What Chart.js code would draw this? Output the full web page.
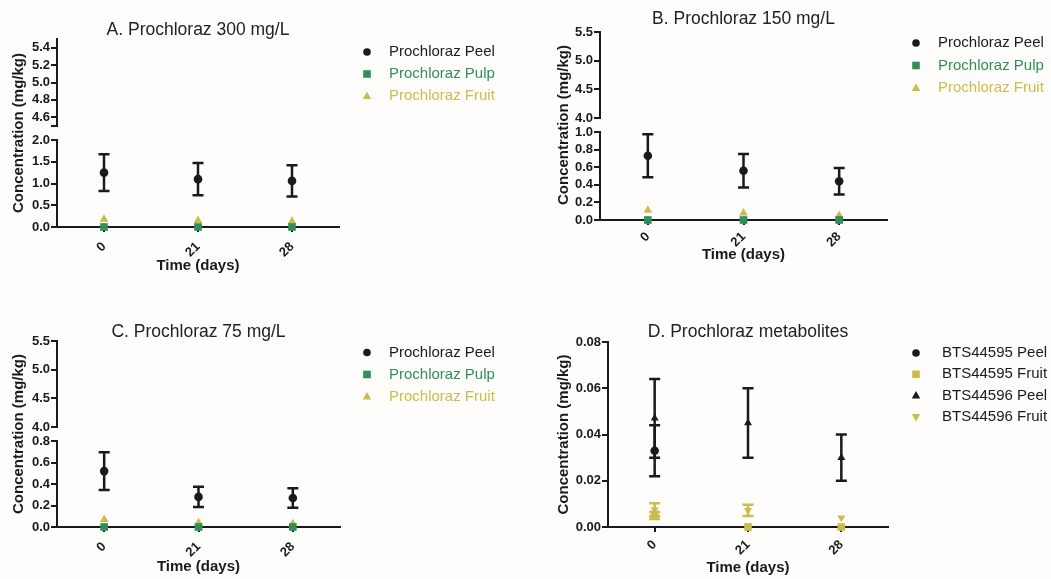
<!DOCTYPE html>
<html>
<head>
<meta charset="utf-8">
<title>Prochloraz residues</title>
<script src="https://cdn.jsdelivr.net/npm/chart.js@4.4.1/dist/chart.umd.min.js"></script>
<style>
  html, body { margin: 0; padding: 0; background: #fefdfb; }
  #page { position: relative; width: 1051px; height: 579px; overflow: hidden; }
  #page canvas { position: absolute; }
</style>
</head>
<body>
<div id="page">
  <canvas id="panel-a" width="520" height="290" style="left:0;top:0"></canvas>
  <canvas id="panel-b" width="531" height="290" style="left:520px;top:0"></canvas>
  <canvas id="panel-c" width="520" height="289" style="left:0;top:290px"></canvas>
  <canvas id="panel-d" width="531" height="289" style="left:520px;top:290px"></canvas>
</div>
<script>
// sampling days
const days = ["0", "21", "28"];

// A. 300 mg/L
const peel300 = [1.25, 1.1, 1.06];
const peel300Err = [0.42, 0.37, 0.36];
const pulp300 = [0, 0, 0];
const fruit300 = [0.18, 0.15, 0.13];

// B. 150 mg/L
const peel150 = [0.73, 0.56, 0.44];
const peel150Err = [0.245, 0.19, 0.15];
const pulp150 = [0, 0, 0];
const fruit150 = [0.11, 0.08, 0.05];

// C. 75 mg/L
const peel75 = [0.52, 0.28, 0.27];
const peel75Err = [0.175, 0.095, 0.09];
const pulp75 = [0, 0, 0];
const fruit75 = [0.07, 0.04, 0.03];

// D. metabolites
const bts95Peel = [0.033, null, null];
const bts95PeelErr = [0.011, null, null];
const bts95Fruit = [0.005, 0, 0];
const bts95FruitErr = [0.0015, 0, 0];
const bts96Peel = [0.047, 0.045, 0.03];
const bts96PeelErr = [0.017, 0.015, 0.01];
const bts96Fruit = [0.0075, 0.0072, 0.004];
const bts96FruitErr = [0.0028, 0.0024, 0];

// tick values / labels
const upper300Ticks = [4.5, 4.6, 4.8, 5.0, 5.2, 5.4];
const upper300Labels = ["", "4.6", "4.8", "5.0", "5.2", "5.4"];
const lower300Ticks = [0, 0.5, 1.0, 1.5, 2.0];
const lower300Labels = ["0.0", "0.5", "1.0", "1.5", "2.0"];
const upperTicks = [4.0, 4.5, 5.0, 5.5];
const upperLabels = ["4.0", "4.5", "5.0", "5.5"];
const lower150Ticks = [0, 0.2, 0.4, 0.6, 0.8, 1.0];
const lower150Labels = ["0.0", "0.2", "0.4", "0.6", "0.8", "1.0"];
const lower75Ticks = [0, 0.2, 0.4, 0.6, 0.8];
const lower75Labels = ["0.0", "0.2", "0.4", "0.6", "0.8"];
const metaTicks = [0, 0.02, 0.04, 0.06, 0.08];
const metaLabels = ["0.00", "0.02", "0.04", "0.06", "0.08"];

const INK = "#1a1a1a";
const GREEN = "#2f8f57";
const YELLOW = "#c9bd4c";
const FONT = "'Liberation Sans', Arial, Helvetica, sans-serif";

Chart.defaults.font.family = FONT;
Chart.defaults.color = INK;

function series(label, data, err, style, color, radius, rotation) {
  return {
    label: label,
    data: data,
    errorBars: err,
    pointStyle: style,
    pointRotation: rotation || 0,
    pointRadius: radius,
    pointHoverRadius: radius,
    pointBorderWidth: 0,
    backgroundColor: color,
    borderColor: color,
    showLine: false,
    clip: false,
    yAxisID: "y",
  };
}

// error bars drawn from the dataset's errorBars array
const errorBars = {
  id: "errorBars",
  beforeDatasetsDraw(chart) {
    const ctx = chart.ctx;
    chart.data.datasets.forEach((ds, i) => {
      if (!ds.errorBars) return;
      const meta = chart.getDatasetMeta(i);
      const yScale = chart.scales[meta.yAxisID];
      meta.data.forEach((pt, j) => {
        const v = ds.data[j];
        const e = ds.errorBars[j];
        if (v == null || !e) return;
        const top = yScale.getPixelForValue(v + e);
        const bot = yScale.getPixelForValue(v - e);
        ctx.save();
        ctx.strokeStyle = ds.borderColor;
        ctx.lineWidth = 2.5;
        ctx.beginPath();
        ctx.moveTo(pt.x, top);
        ctx.lineTo(pt.x, bot);
        ctx.moveTo(pt.x - 5.5, top);
        ctx.lineTo(pt.x + 5.5, top);
        ctx.moveTo(pt.x - 5.5, bot);
        ctx.lineTo(pt.x + 5.5, bot);
        ctx.stroke();
        ctx.restore();
      });
    });
  },
};

const panelTitle = {
  id: "panelTitle",
  afterDraw(chart, args, opts) {
    const { ctx, chartArea } = chart;
    ctx.save();
    ctx.font = "17.5px " + FONT;
    ctx.fillStyle = "#222";
    ctx.textAlign = "center";
    ctx.textBaseline = "middle";
    ctx.fillText(opts.text, (chartArea.left + chartArea.right) / 2, opts.y);
    ctx.restore();
  },
};

function drawMarker(ctx, style, rotation, x, y, color) {
  ctx.fillStyle = color;
  ctx.beginPath();
  if (style === "circle") {
    ctx.arc(x, y, 3.8, 0, Math.PI * 2);
  } else if (style === "rect") {
    ctx.rect(x - 3.8, y - 3.8, 7.6, 7.6);
  } else {
    const s = rotation ? -1 : 1;
    ctx.moveTo(x, y - s * 4.6);
    ctx.lineTo(x + 4.2, y + s * 3.0);
    ctx.lineTo(x - 4.2, y + s * 3.0);
    ctx.closePath();
  }
  ctx.fill();
}

const sideLegend = {
  id: "sideLegend",
  afterDraw(chart, args, opts) {
    const ctx = chart.ctx;
    ctx.save();
    ctx.font = "15px " + FONT;
    ctx.textBaseline = "middle";
    ctx.textAlign = "left";
    chart.data.datasets.forEach((ds, i) => {
      const y = opts.y + i * opts.gap;
      drawMarker(ctx, ds.pointStyle, ds.pointRotation, opts.x, y, ds.backgroundColor);
      ctx.fillStyle = opts.colors[i];
      ctx.fillText(ds.label, opts.textX, y);
    });
    ctx.restore();
  },
};

const tickFont = { size: 13, weight: "bold" };
const axisTitleFont = { size: 15, weight: "bold" };

function valueAxis(min, max, ticks, labels, width, extra) {
  return Object.assign({
    type: "linear",
    position: "left",
    min: min,
    max: max,
    afterBuildTicks: (s) => {
      s.ticks = ticks.map((v) => ({ value: v }));
    },
    afterFit: (s) => {
      s.width = width;
    },
    grid: { drawOnChartArea: false, color: INK, lineWidth: 2, tickLength: 6 },
    border: { color: INK, width: 2 },
    ticks: {
      callback: (v, i) => labels[i],
      font: tickFont,
      color: INK,
      padding: 1,
      autoSkip: false,
    },
  }, extra);
}

function buildPanel(p) {
  const el = document.getElementById(p.canvas);
  const W = el.width;
  const H = el.height;
  const yW = p.plot.left - p.x0;
  const xH = p.y0 + H - p.plot.bottom;
  const yTitle = {
    display: true,
    text: "Concentration (mg/kg)",
    font: axisTitleFont,
    color: INK,
    padding: { top: p.yTitleX - p.x0 - 9, bottom: 0 },
  };

  const scales = {
    x: {
      type: "category",
      offset: true,
      grid: { drawOnChartArea: false, offset: false, color: INK, lineWidth: 2, tickLength: 5 },
      border: { color: INK, width: 2 },
      ticks: { font: tickFont, color: INK, minRotation: 45, maxRotation: 45, padding: p.xTickPad, autoSkip: false },
      title: {
        display: true,
        text: "Time (days)",
        font: axisTitleFont,
        color: INK,
        padding: { top: 0, bottom: H - 9 - (p.xTitleY - p.y0) },
      },
      afterFit: (s) => {
        s.height = xH;
      },
    },
  };

  if (p.upper) {
    const upperPx = p.gap[0] - p.plot.top;
    const gapPx = p.gap[1] - p.gap[0];
    const lowerPx = p.plot.bottom - p.gap[1];
    scales.yTop = valueAxis(p.upper.min, p.upper.max, p.upper.ticks, p.upper.labels, yW,
      { stack: "conc", stackWeight: upperPx, weight: 3 });
    scales.yGap = {
      type: "linear",
      position: "left",
      stack: "conc",
      stackWeight: gapPx,
      weight: 2,
      min: 0,
      max: 1,
      afterFit: (s) => {
        s.width = yW;
      },
      grid: { display: false },
      border: { display: false },
      ticks: { display: false },
      title: yTitle,
    };
    scales.y = valueAxis(p.lower.min, p.lower.max, p.lower.ticks, p.lower.labels, yW,
      { stack: "conc", stackWeight: lowerPx, weight: 1 });
  } else {
    scales.y = valueAxis(p.lower.min, p.lower.max, p.lower.ticks, p.lower.labels, yW,
      { title: yTitle });
  }

  return new Chart(el, {
    type: "line",
    data: { labels: days, datasets: p.datasets },
    options: {
      responsive: false,
      animation: false,
      devicePixelRatio: 1,
      layout: {
        padding: { top: p.plot.top - p.y0, left: 0, right: W - (p.plot.right - p.x0), bottom: 0 },
      },
      plugins: {
        legend: { display: false },
        tooltip: { enabled: false },
        panelTitle: { text: p.title, y: p.titleY - p.y0 },
        sideLegend: {
          x: p.legend.x - p.x0,
          textX: p.legend.textX - p.x0,
          y: p.legend.y - p.y0,
          gap: p.legend.gap,
          colors: p.legend.colors,
        },
      },
      scales: scales,
    },
    plugins: [errorBars, panelTitle, sideLegend],
  });
}

const prochlorazColors = [INK, GREEN, YELLOW];

buildPanel({
  canvas: "panel-a", x0: 0, y0: 0,
  title: "A. Prochloraz 300 mg/L", titleY: 30,
  plot: { left: 57, right: 339, top: 39, bottom: 227 },
  gap: [126, 140],
  yTitleX: 18.5, xTitleY: 266, xTickPad: 7,
  legend: { x: 367, textX: 389, y: 52, gap: 22, colors: prochlorazColors },
  upper: { min: 4.5, max: 5.5, ticks: upper300Ticks, labels: upper300Labels },
  lower: { min: 0, max: 2, ticks: lower300Ticks, labels: lower300Labels },
  datasets: [
    series("Prochloraz Peel", peel300, peel300Err, "circle", INK, 4.3),
    series("Prochloraz Pulp", pulp300, null, "rect", GREEN, 5.4),
    series("Prochloraz Fruit", fruit300, null, "triangle", YELLOW, 5),
  ],
});

buildPanel({
  canvas: "panel-b", x0: 520, y0: 0,
  title: "B. Prochloraz 150 mg/L", titleY: 19,
  plot: { left: 600, right: 887, top: 32, bottom: 220 },
  gap: [118, 132],
  yTitleX: 563.5, xTitleY: 255, xTickPad: 4,
  legend: { x: 916, textX: 938, y: 43, gap: 22.5, colors: prochlorazColors },
  upper: { min: 4.0, max: 5.5, ticks: upperTicks, labels: upperLabels },
  lower: { min: 0, max: 1, ticks: lower150Ticks, labels: lower150Labels },
  datasets: [
    series("Prochloraz Peel", peel150, peel150Err, "circle", INK, 4.3),
    series("Prochloraz Pulp", pulp150, null, "rect", GREEN, 5.4),
    series("Prochloraz Fruit", fruit150, null, "triangle", YELLOW, 5),
  ],
});

buildPanel({
  canvas: "panel-c", x0: 0, y0: 290,
  title: "C. Prochloraz 75 mg/L", titleY: 332,
  plot: { left: 57, right: 340, top: 341, bottom: 527 },
  gap: [427, 441],
  yTitleX: 18.5, xTitleY: 567, xTickPad: 7,
  legend: { x: 367, textX: 389, y: 352.5, gap: 22, colors: prochlorazColors },
  upper: { min: 4.0, max: 5.5, ticks: upperTicks, labels: upperLabels },
  lower: { min: 0, max: 0.8, ticks: lower75Ticks, labels: lower75Labels },
  datasets: [
    series("Prochloraz Peel", peel75, peel75Err, "circle", INK, 4.3),
    series("Prochloraz Pulp", pulp75, null, "rect", GREEN, 5.4),
    series("Prochloraz Fruit", fruit75, null, "triangle", YELLOW, 5),
  ],
});

buildPanel({
  canvas: "panel-d", x0: 520, y0: 290,
  title: "D. Prochloraz metabolites", titleY: 332,
  plot: { left: 608, right: 888, top: 342, bottom: 527 },
  yTitleX: 563.5, xTitleY: 568, xTickPad: 5,
  legend: { x: 916, textX: 942, y: 353, gap: 21.3, colors: [INK, INK, INK, INK] },
  lower: { min: 0, max: 0.08, ticks: metaTicks, labels: metaLabels },
  datasets: [
    series("BTS44595 Peel", bts95Peel, bts95PeelErr, "circle", INK, 4.3),
    series("BTS44595 Fruit", bts95Fruit, bts95FruitErr, "rect", YELLOW, 5.4),
    series("BTS44596 Peel", bts96Peel, bts96PeelErr, "triangle", INK, 4.6),
    series("BTS44596 Fruit", bts96Fruit, bts96FruitErr, "triangle", YELLOW, 4.6, 180),
  ],
});
</script>
</body>
</html>
